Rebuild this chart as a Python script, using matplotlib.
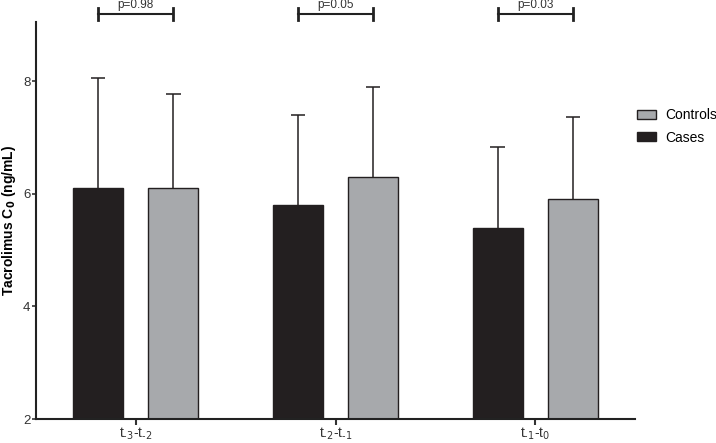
import matplotlib
matplotlib.use("Agg")
import matplotlib.pyplot as plt
from matplotlib.patches import Patch
import numpy as np

plt.rcParams['font.family'] = ['Liberation Sans', 'DejaVu Sans']

# Data
periods = ["t$_{\\text{-3}}$-t$_{\\text{-2}}$", "t$_{\\text{-2}}$-t$_{\\text{-1}}$", "t$_{\\text{-1}}$-t$_{0}$"]
cases_mean = [6.1, 5.8, 5.4]
cases_sd = [1.95, 1.6, 1.43]
controls_mean = [6.1, 6.3, 5.9]
controls_sd = [1.68, 1.6, 1.47]
p_values = ["p=0.98", "p=0.05", "p=0.03"]

dark = "#231f20"
grey = "#a7a9ac"

fig = plt.figure(figsize=(7.16, 4.43), dpi=100)
ax = fig.add_axes([36 / 716, 24 / 443, 599 / 716, 397 / 443])

x = np.arange(len(periods))
off = 0.188
w = 0.25
cap = 0.036

ax.bar(x - off, cases_mean, width=w, color=dark, edgecolor=dark, linewidth=1.0, zorder=2)
ax.bar(x + off, controls_mean, width=w, color=grey, edgecolor=dark, linewidth=1.0, zorder=2)

# upper-only error bars
for xs, m, sd in [(x - off, cases_mean, cases_sd), (x + off, controls_mean, controls_sd)]:
    top = np.array(m) + np.array(sd)
    ax.vlines(xs, m, top, color=dark, lw=1.1, zorder=1)
    ax.hlines(top, xs - cap, xs + cap, color=dark, lw=1.1, zorder=1)

ax.set_xlim(-0.5, 2.5)
ax.set_ylim(2, 9.05)
ax.set_yticks([2, 4, 6, 8])
ax.set_xticks(x)
ax.set_xticklabels(periods, fontsize=10)
ax.tick_params(axis='y', labelsize=9.5, length=3, width=1.2, pad=1, colors='#333333')
ax.tick_params(axis='x', length=4, width=1.5, pad=1, colors='#333333')

for s in ['top', 'right']:
    ax.spines[s].set_visible(False)
for s in ['left', 'bottom']:
    ax.spines[s].set_linewidth(1.5)
    ax.spines[s].set_color('#222222')

ax.set_ylabel("Tacrolimus C$_\\mathbf{0}$ (ng/mL)", fontsize=10, fontweight='bold', labelpad=4)

# significance brackets
yb = 9.19
for i, p in enumerate(p_values):
    ax.plot([i - off, i + off], [yb, yb], color='#222222', lw=1.5, clip_on=False)
    for xe in (i - off, i + off):
        ax.plot([xe, xe], [yb - 0.1, yb + 0.1], color='#222222', lw=2, clip_on=False)
    ax.text(i, yb + 0.06, p, ha='center', va='bottom', fontsize=8.5, color='#333333', clip_on=False)

handles = [Patch(facecolor=grey, edgecolor=dark, linewidth=1.0),
           Patch(facecolor=dark, edgecolor=dark, linewidth=1.0)]
fig.legend(handles, ["Controls", "Cases"], loc='center left', bbox_to_anchor=(637 / 716, 1 - 126.5 / 443),
           frameon=False, fontsize=10, handlelength=1.35, handleheight=0.65, handletextpad=0.7,
           labelspacing=0.6, borderpad=0, borderaxespad=0)

fig.savefig("out.png", dpi=100)
